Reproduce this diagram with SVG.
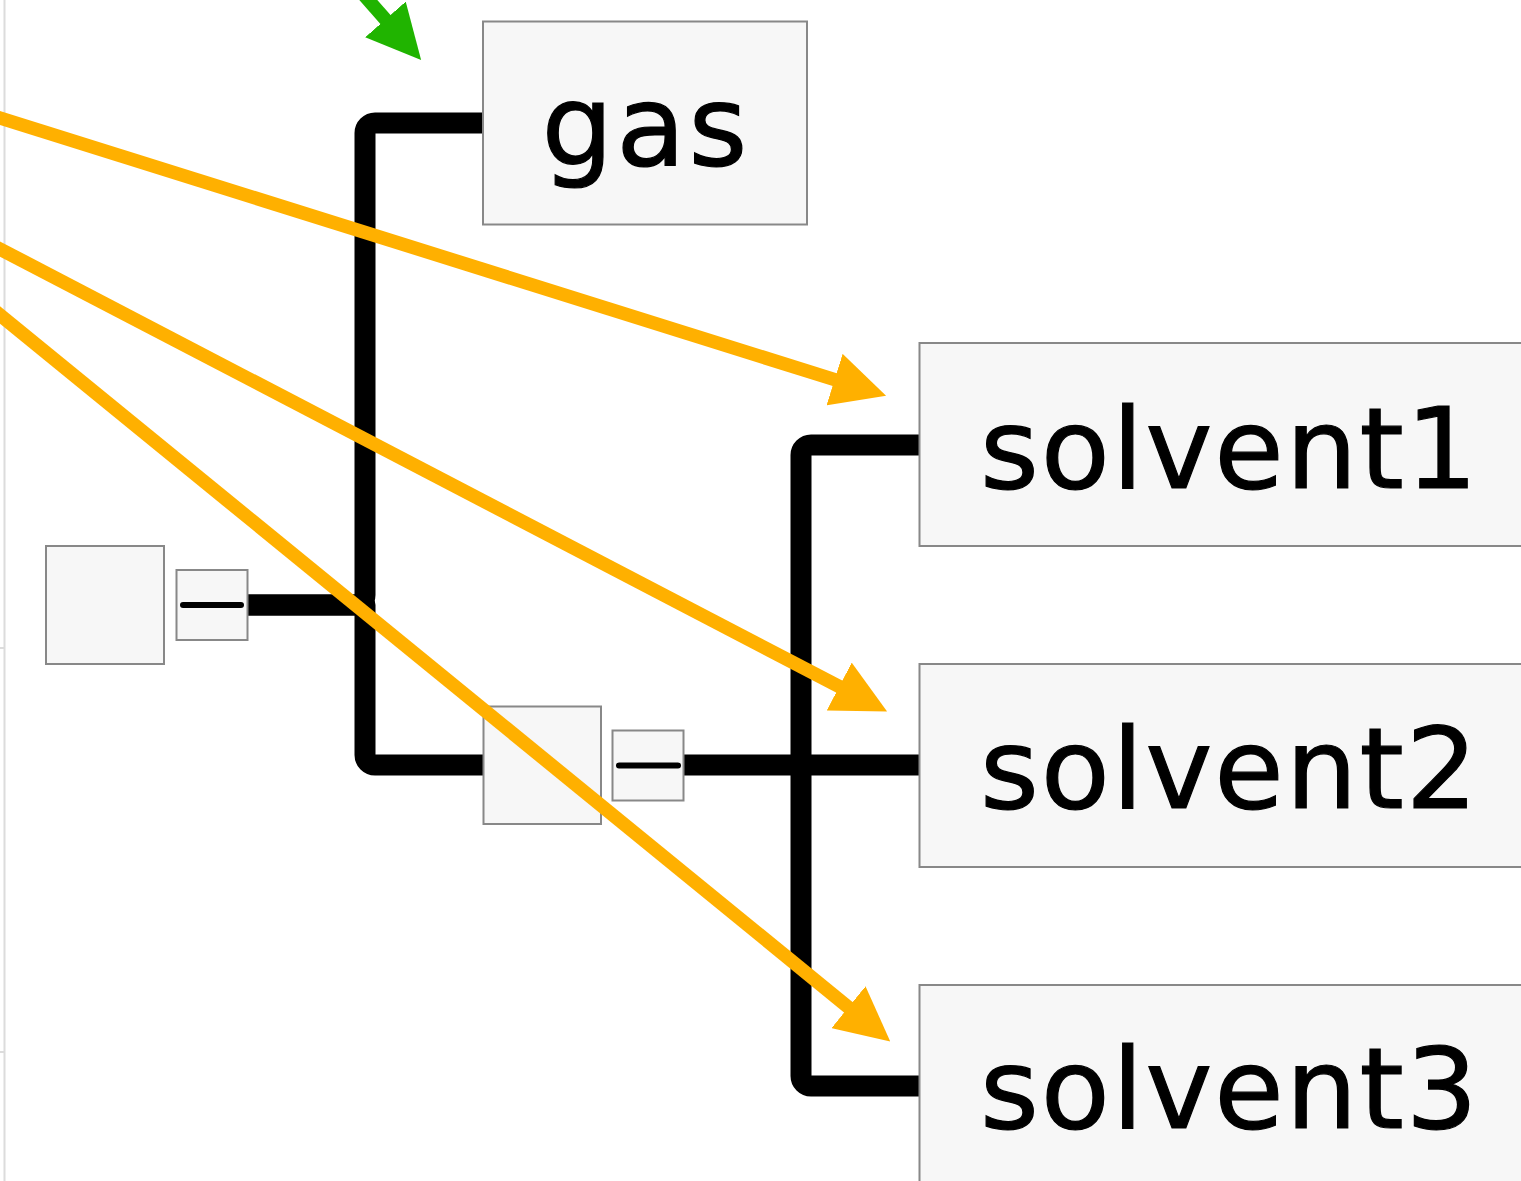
<svg xmlns="http://www.w3.org/2000/svg" width="1521" height="1181" viewBox="0 0 1521 1181">
  <style>
    .node { fill: #f7f7f7; stroke: #888888; stroke-width: 2; }
    .label { font-family: "DejaVu Sans", Verdana, sans-serif; font-size: 113px; fill: #000000; stroke: #000000; stroke-width: 1.2; letter-spacing: 2px; }
    .tree { fill: none; stroke: #000000; stroke-width: 21; stroke-linejoin: round; }
    .minus { stroke: #000000; stroke-width: 6; stroke-linecap: round; }
    .orange { fill: none; stroke: #ffb000; stroke-width: 13.5; }
    .green { fill: none; stroke: #20b400; stroke-width: 13.5; }
    .axis { fill: none; stroke: #dcdcdc; stroke-width: 2; }
  </style>
  <defs>
    <marker id="arrowOrange" markerUnits="userSpaceOnUse" markerWidth="54" markerHeight="54" refX="1" refY="27" orient="auto">
      <path d="M0,0 L54,27 L0,54 Z" fill="#ffb000"/>
    </marker>
    <marker id="arrowGreen" markerUnits="userSpaceOnUse" markerWidth="54" markerHeight="54" refX="1" refY="27" orient="auto">
      <path d="M0,0 L54,27 L0,54 Z" fill="#20b400"/>
    </marker>
  </defs>
  <rect x="0" y="0" width="1521" height="1181" fill="#ffffff"/>

  <g id="axis">
    <line class="axis" x1="4.5" y1="0" x2="4.5" y2="1181"/>
    <line class="axis" x1="0" y1="648" x2="4.5" y2="648"/>
    <line class="axis" x1="0" y1="1052" x2="4.5" y2="1052"/>
  </g>

  <g id="tree-connectors">
    <path class="tree" d="M247,605 H355 A10,10 0 0 0 365,595 V133 A10,10 0 0 1 375,123 H484"/>
    <path class="tree" d="M247,605 H365 V755 A10,10 0 0 0 375,765 H484"/>
    <path class="tree" d="M684,765 H920"/>
    <path class="tree" d="M801,765 V455 A10,10 0 0 1 811,445 H920"/>
    <path class="tree" d="M801,765 V1076 A10,10 0 0 0 811,1086 H920"/>
  </g>

  <g id="node-gas">
    <rect class="node" x="483" y="21.5" width="324" height="203"/>
    <text class="label" x="646" y="165" text-anchor="middle" style="letter-spacing:3px">gas</text>
  </g>
  <g id="node-solvent1">
    <rect class="node" x="919.5" y="343" width="620" height="203"/>
    <text class="label" x="980" y="488">solvent1</text>
  </g>
  <g id="node-solvent2">
    <rect class="node" x="919.5" y="664" width="620" height="203"/>
    <text class="label" x="980" y="808">solvent2</text>
  </g>
  <g id="node-solvent3">
    <rect class="node" x="919.5" y="985" width="620" height="220"/>
    <text class="label" x="980" y="1128">solvent3</text>
  </g>

  <g id="node-junction1">
    <rect class="node" x="46" y="546" width="118" height="118"/>
  </g>
  <g id="node-collapse1">
    <rect class="node" x="176.5" y="570" width="71" height="70"/>
    <line class="minus" x1="183" y1="605" x2="241" y2="605"/>
  </g>
  <g id="node-junction2">
    <rect class="node" x="483.5" y="706.5" width="117.5" height="117.5"/>
  </g>
  <g id="node-collapse2">
    <rect class="node" x="612.5" y="730.5" width="71" height="70"/>
    <line class="minus" x1="619" y1="765.5" x2="678" y2="765.5"/>
  </g>

  <g id="arrows">
    <line class="orange" x1="-20" y1="111.7" x2="835.5" y2="379.9" marker-end="url(#arrowOrange)"/>
    <line class="orange" x1="-20" y1="238.6" x2="840.1" y2="687" marker-end="url(#arrowOrange)"/>
    <line class="orange" x1="-20" y1="298.7" x2="849.2" y2="1007.9" marker-end="url(#arrowOrange)"/>
    <line class="green" x1="341.9" y1="-30" x2="386.1" y2="20.2" marker-end="url(#arrowGreen)"/>
  </g>
</svg>
